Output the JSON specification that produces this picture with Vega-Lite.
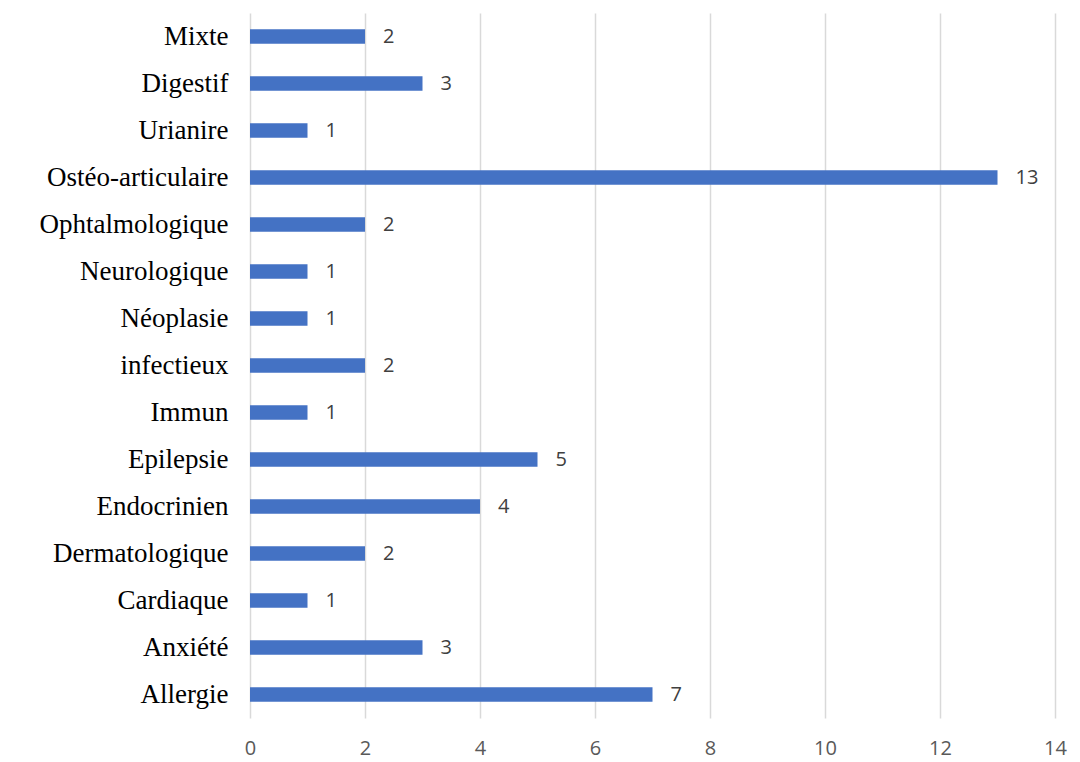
{
  "$schema": "https://vega.github.io/schema/vega-lite/v6.json",
  "width": 805,
  "height": 705,
  "autosize": "none",
  "padding": {"left": 250, "top": 13, "right": 25, "bottom": 44},
  "background": "white",
  "config": {
    "view": {"stroke": null},
    "axis": {"domain": false, "ticks": false}
  },
  "data": {
    "values": [
      {"categorie": "Mixte", "n": 2},
      {"categorie": "Digestif", "n": 3},
      {"categorie": "Urianire", "n": 1},
      {"categorie": "Ostéo-articulaire", "n": 13},
      {"categorie": "Ophtalmologique", "n": 2},
      {"categorie": "Neurologique", "n": 1},
      {"categorie": "Néoplasie", "n": 1},
      {"categorie": "infectieux", "n": 2},
      {"categorie": "Immun", "n": 1},
      {"categorie": "Epilepsie", "n": 5},
      {"categorie": "Endocrinien", "n": 4},
      {"categorie": "Dermatologique", "n": 2},
      {"categorie": "Cardiaque", "n": 1},
      {"categorie": "Anxiété", "n": 3},
      {"categorie": "Allergie", "n": 7}
    ]
  },
  "encoding": {
    "y": {
      "field": "categorie",
      "type": "nominal",
      "sort": null,
      "title": null,
      "scale": {"paddingInner": 0.69, "paddingOuter": 0.345},
      "axis": {
        "labelFont": "Liberation Serif",
        "labelFontSize": 27,
        "labelColor": "#000000",
        "labelPadding": 22,
        "labelLimit": 300,
        "grid": false
      }
    },
    "x": {
      "field": "n",
      "type": "quantitative",
      "title": null,
      "scale": {"domain": [0, 14], "nice": false},
      "axis": {
        "values": [0, 2, 4, 6, 8, 10, 12, 14],
        "labelFont": "Open Sans",
        "labelFontSize": 20,
        "labelColor": "#595959",
        "labelPadding": 20,
        "labelFlush": false,
        "grid": true,
        "gridColor": "#d9d9d9",
        "gridWidth": 1.5
      }
    }
  },
  "layer": [
    {"mark": {"type": "bar", "color": "#4472C4"}},
    {
      "mark": {
        "type": "text",
        "align": "left",
        "baseline": "middle",
        "dx": 18,
        "font": "Open Sans",
        "fontSize": 20,
        "color": "#404040"
      },
      "encoding": {"text": {"field": "n", "type": "quantitative"}}
    }
  ]
}
